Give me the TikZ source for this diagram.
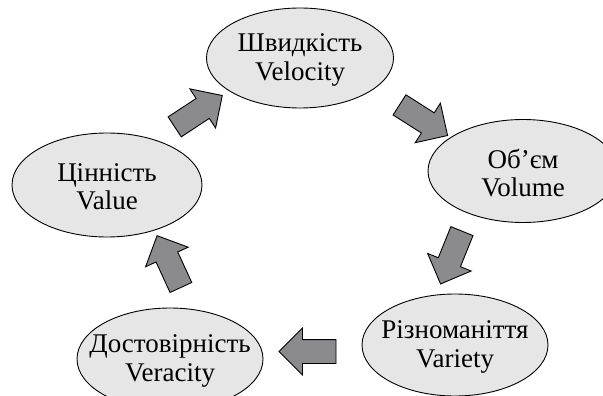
\documentclass[tikz,border=0pt]{standalone}
\usepackage{fontspec}
\setmainfont{Liberation Serif}
\usetikzlibrary{shapes.geometric,shapes.arrows}
\definecolor{ellfill}{HTML}{E6E6E7}
\definecolor{arrfill}{HTML}{8B8B8D}
\tikzset{
  vbox/.style={ellipse, draw=black, line width=0.9pt, fill=ellfill, inner sep=0pt},
  vtext/.style={align=center, font=\rmfamily\fontsize{27}{28.5}\selectfont, inner sep=0pt, yshift=-2pt},
  barrow/.style={single arrow, draw=black, line width=0.9pt, fill=arrfill,
    minimum height=57pt, inner xsep=0pt, inner ysep=11.5pt,
    single arrow head extend=11.5pt, single arrow tip angle=90},
}
\begin{document}
\begin{tikzpicture}[x=1pt,y=-1pt]
\useasboundingbox (0,0) rectangle (603,396);
\begin{scope}
\clip (0,0) rectangle (603,396);
\node[vbox, minimum width=187pt, minimum height=100pt,
  label={[vtext]center:Швидкість\\Velocity}] (vel) at (300,58) {};
\node[vbox, minimum width=190pt, minimum height=103pt,
  label={[vtext]center:Об’єм\\Volume}] (vol) at (523,171) {};
\node[vbox, minimum width=186pt, minimum height=102pt,
  label={[vtext]center:Різноманіття\\Variety}] (var) at (455,345) {};
\node[vbox, minimum width=186pt, minimum height=102pt,
  label={[vtext]center:Достовірність\\Veracity}] (ver) at (170,359) {};
\node[vbox, minimum width=190pt, minimum height=104pt,
  label={[vtext]center:Цінність\\Value}] (val) at (107,185) {};
\end{scope}
\node[barrow, rotate=33.4] (a1) at (193.5,114.5) {};
\node[barrow, rotate=-32.5] (a2) at (418.5,117) {};
\node[barrow, rotate=-112] (a3) at (453.5,252) {};
\node[barrow, rotate=180] (a4) at (313.5,351.5) {};
\node[barrow, rotate=114.7] (a5) at (171.5,267) {};
\end{tikzpicture}
\end{document}
